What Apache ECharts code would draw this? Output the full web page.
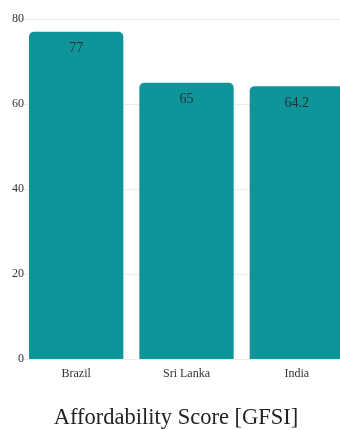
<!DOCTYPE html>
<html>
<head>
<meta charset="utf-8">
<script src="https://cdn.jsdelivr.net/npm/echarts@6/dist/echarts.min.js"></script>
<style>
  html, body { margin: 0; padding: 0; background: #fff; overflow: hidden; }
  #chart { width: 352px; height: 430px; }
</style>
</head>
<body>
<div id="chart"></div>
<script type="text/javascript">
var countries = ['Brazil', 'Sri Lanka', 'India'];
var scores = [77, 65, 64.2];
var yTicks = [0, 20, 40, 60, 80];

// chart is a bit wider than the window so the last bar gets clipped like the original
var chart = echarts.init(document.getElementById('chart'));

var option = {
    backgroundColor: '#ffffff',
    animation: false,
    title: {
        text: 'Affordability Score [GFSI]',
        left: 'center',
        top: 402,
        textStyle: {
            fontFamily: 'Liberation Serif',
            fontWeight: 'normal',
            fontSize: 22.5,
            color: '#222'
        }
    },
    grid: {
        left: 21,
        right: 0,
        top: 19,
        bottom: 71
    },
    xAxis: {
        type: 'category',
        data: countries,
        axisLine: { show: false },
        axisTick: { show: false },
        axisLabel: {
            margin: 9,
            fontFamily: 'Liberation Serif',
            fontSize: 12,
            color: '#333'
        }
    },
    yAxis: {
        type: 'value',
        min: yTicks[0],
        max: yTicks[yTicks.length - 1],
        interval: 20,
        axisLine: { show: false },
        axisTick: { show: false },
        axisLabel: {
            margin: -3,
            fontFamily: 'Liberation Serif',
            fontSize: 12,
            color: '#333'
        },
        splitLine: { lineStyle: { color: '#ececec' } }
    },
    series: [
        {
            type: 'bar',
            data: scores,
            barCategoryGap: '14.5%',
            itemStyle: {
                color: '#0f9499',
                borderRadius: [5, 5, 0, 0]
            },
            label: {
                show: true,
                position: 'insideTop',
                distance: 10,
                fontFamily: 'Liberation Serif',
                fontSize: 14,
                color: '#1e3236'
            }
        }
    ]
};
chart.setOption(option);
</script>
</body>
</html>
